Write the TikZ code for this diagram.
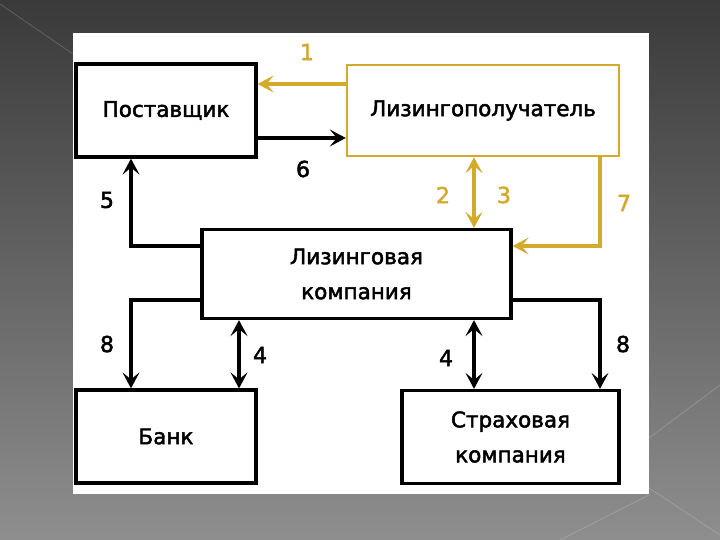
\documentclass[tikz,border=0pt]{standalone}
\usepackage{fontspec}
\setmainfont{DejaVu Sans}
\newfontfamily\bxfont[FakeBold=2.2]{DejaVu Sans}
\usetikzlibrary{arrows.meta}
\definecolor{gold}{RGB}{212,170,45}
\definecolor{bgtop}{RGB}{58,58,58}
\definecolor{bgbot}{RGB}{142,142,142}
\begin{document}
\begin{tikzpicture}[x=1pt,y=-1pt,
  box/.style={draw=black,line width=3.2pt,fill=white,inner sep=0pt,align=center,
    font=\bxfont\fontsize{21.5}{35}\selectfont},
  gbox/.style={box,draw=gold,line width=2.4pt},
  tip/.style={},
  conn/.style={line width=3.4pt,-{Stealth[length=16pt,width=17pt,inset=7pt]}},
  dconn/.style={line width=3.4pt,{Stealth[length=16pt,width=17pt,inset=7pt]}-{Stealth[length=16pt,width=17pt,inset=7pt]}},
  lbl/.style={font=\bxfont\fontsize{22}{24}\selectfont,inner sep=0pt},
  deco/.style={line width=0.8pt,draw=white,opacity=0.18}]
\useasboundingbox (0,0) rectangle (720,540);
\shade[top color=bgtop,bottom color=bgbot] (0,0) rectangle (720,540);
\draw[deco] (0,4) -- (73,54);
\draw[deco] (720,385) -- (649,438);
\draw[deco] (649,488) -- (720,535);
\draw[deco] (649,495) -- (560,540);
\fill[white] (73,33) rectangle (649,494);
% nodes
\node[box,minimum width=180pt,minimum height=93pt] (post) at (166,110.5) {Поставщик};
\node[gbox,minimum width=272pt,minimum height=91pt] (lp) at (483,110.5) {Лизингополучатель};
\node[box,minimum width=309pt,minimum height=89pt] (lk) at (356.5,274) {Лизинговая\\компания};
\node[box,minimum width=180pt,minimum height=93pt] (bank) at (166,436.5) {Банк};
\node[box,minimum width=217pt,minimum height=93pt] (str) at (510.5,437) {Страховая\\компания};
% connectors
\draw[conn,gold] (lp.west |- 0,84) -- (post.east |- 0,84);
\draw[conn] (post.east |- 0,138) -- (lp.west |- 0,138);
\draw[conn] (lk.west |- 0,246) -| (post.south -| 131,0);
\draw[dconn,gold] (lp.south -| 474,0) -- (lk.north -| 474,0);
\draw[conn,gold] (lp.south -| 600,0) |- (lk.east |- 0,246);
\draw[conn] (lk.west |- 0,300) -| (bank.north -| 131,0);
\draw[dconn] (lk.south -| 239,0) -- (bank.north -| 239,0);
\draw[dconn] (lk.south -| 474,0) -- (str.north -| 474,0);
\draw[conn] (lk.east |- 0,300) -| (str.north -| 600,0);
% labels
\node[lbl,text=gold] (n1) at (307,52) {1};
\node[lbl] (n6) at (303,169) {6};
\node[lbl] (n5) at (107,200) {5};
\node[lbl,text=gold] (n2) at (443,195) {2};
\node[lbl,text=gold] (n3) at (504,195) {3};
\node[lbl,text=gold] (n7) at (624,203) {7};
\node[lbl] (n8a) at (107,344) {8};
\node[lbl] (n4a) at (260,355) {4};
\node[lbl] (n4b) at (446,358) {4};
\node[lbl] (n8b) at (623,344) {8};
\end{tikzpicture}
\end{document}
